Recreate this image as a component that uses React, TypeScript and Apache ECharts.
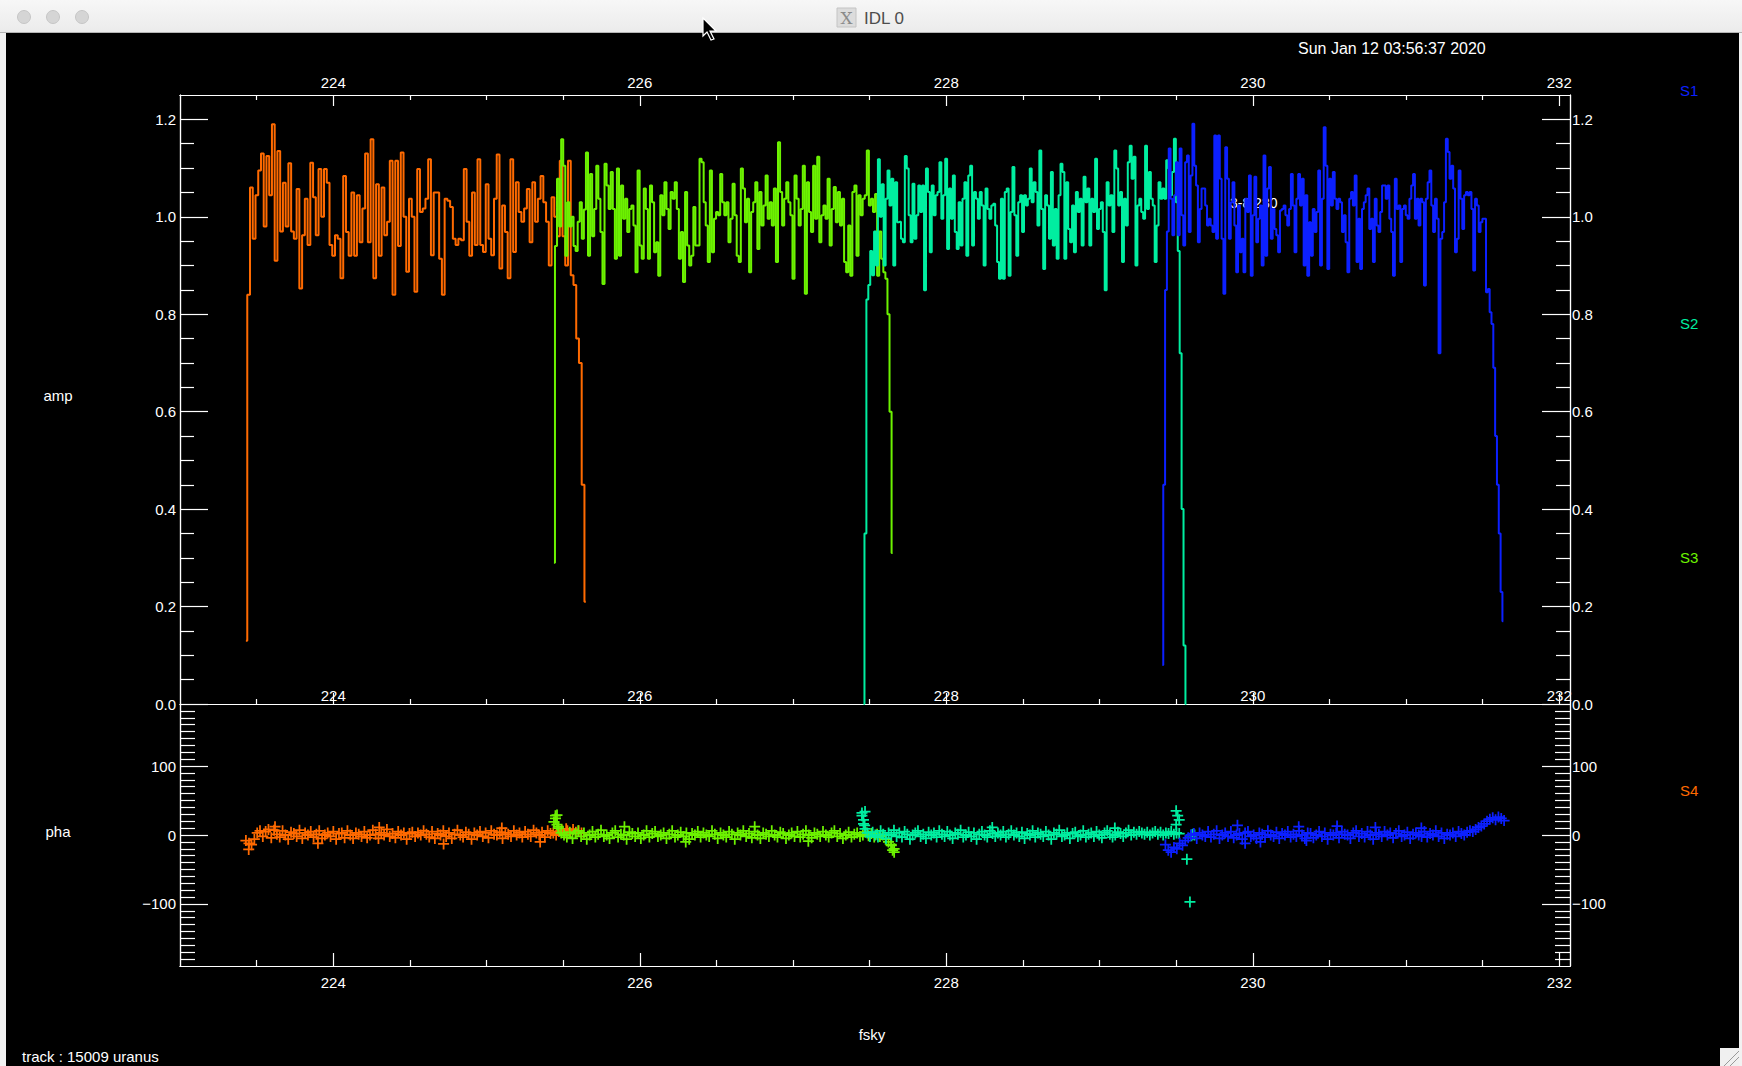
import { useEffect, useRef } from "react";
import * as echarts from "echarts";

// --- frequency axis (GHz) ---
const X_MIN = 223;
const X_MAX = 232.07;
const xMajorTicks = [224, 226, 228, 230, 232];
const xMinorTicks = [223.5, 224.5, 225, 225.5, 226.5, 227, 227.5, 228.5, 229, 229.5, 230.5, 231, 231.5];

// --- amplitude axis ---
const ampMajorTicks = [0, 0.2, 0.4, 0.6, 0.8, 1.0, 1.2];
const ampMinorTicks = [0.05, 0.1, 0.15, 0.25, 0.3, 0.35, 0.45, 0.5, 0.55, 0.65, 0.7, 0.75, 0.85, 0.9, 0.95, 1.05, 1.1, 1.15];

// --- phase axis ---
const phaMajorTicks = [-100, 0, 100];
const phaMinorTicks = [
  -180, -170, -160, -150, -140, -130, -120, -110, -90, -80, -70, -60, -50, -40, -30, -20, -10,
  10, 20, 30, 40, 50, 60, 70, 80, 90, 110, 120, 130, 140, 150, 160, 170, 180,
];

// --- sub-band channel ranges (GHz) ---
const rangeS4 = [223.43, 225.648];
const rangeS3 = [225.44, 227.65];
const rangeS2 = [227.46, 229.567];
const rangeS1 = [229.41, 231.635];

// --- amplitude per channel ---
const ampS4 = [
  0.13, 0.84, 1.06, 0.955, 1.044, 1.095, 1.13, 0.98, 1.125, 1.044, 1.19, 0.91, 1.135, 0.97, 1.07, 0.98, 1.11, 0.97, 0.955, 1.057,
  0.853, 0.962, 1.037, 0.942, 1.111, 1.04, 0.962, 1.098, 1.0, 1.098, 1.07, 0.942, 0.92, 0.962, 0.955, 0.874, 1.084, 0.969, 0.92, 1.05,
  0.92, 1.044, 0.948, 1.017, 1.13, 0.948, 1.159, 0.874, 1.067, 0.92, 1.06, 0.962, 0.99, 1.115, 0.84, 1.115, 0.94, 1.132, 1.0, 0.887,
  1.037, 1.0, 0.846, 1.098, 1.01, 1.017, 1.037, 1.118, 0.921, 1.05, 1.05, 0.914, 0.84, 1.037, 1.033, 1.02, 0.955, 0.942, 0.955, 0.952,
  1.098, 0.99, 0.92, 1.05, 0.942, 1.118, 0.942, 0.928, 1.067, 0.955, 0.921, 1.037, 1.128, 0.894, 1.023, 0.969, 0.874, 1.118, 0.928, 1.071,
  1.01, 0.99, 1.017, 1.057, 0.948, 1.071, 0.99, 1.037, 1.084, 1.03, 0.99, 0.9, 1.04, 1.0, 0.96, 1.115, 0.96, 0.9, 1.115, 0.88,
  0.86, 0.75, 0.7, 0.45, 0.21,
];
const ampS3 = [
  0.29, 0.94, 1.078, 0.98, 1.159, 1.105, 0.92, 1.03, 0.98, 1.0, 0.94, 0.93, 0.99, 1.03, 0.955, 1.015, 1.132, 0.92, 1.088, 0.96,
  1.016, 1.105, 1.037, 0.969, 0.862, 1.109, 1.064, 1.016, 1.092, 1.016, 0.914, 1.099, 0.92, 1.064, 0.996, 1.037, 0.969, 1.016, 1.023, 0.982,
  0.886, 1.095, 0.941, 0.914, 1.058, 1.016, 0.914, 1.064, 1.03, 0.927, 0.948, 0.879, 1.044, 1.003, 1.071, 1.016, 0.975, 1.051, 1.037, 1.071,
  1.016, 0.914, 0.969, 0.866, 1.051, 0.941, 0.9, 0.92, 1.02, 0.941, 0.941, 1.119, 1.112, 1.03, 0.982, 0.907, 1.095, 0.927, 0.996, 1.01,
  1.003, 1.088, 1.03, 1.003, 1.03, 0.948, 0.996, 1.068, 1.003, 0.92, 0.907, 1.099, 1.058, 0.989, 1.037, 0.886, 1.01, 1.03, 1.071, 0.934,
  1.051, 0.982, 1.023, 1.085, 0.996, 1.03, 0.982, 1.058, 0.907, 1.153, 1.051, 0.982, 1.037, 1.071, 1.03, 1.003, 0.873, 1.085, 1.037, 0.982,
  1.016, 1.105, 0.842, 1.071, 1.01, 0.969, 1.105, 0.996, 1.123, 0.948, 1.003, 1.023, 0.996, 1.078, 0.941, 1.016, 1.061, 0.989, 1.051, 0.982,
  1.037, 0.907, 0.886, 0.982, 0.879, 1.051, 1.064, 0.92, 1.044, 1.003, 1.037, 1.044, 1.136, 1.023, 1.037, 1.01, 1.047, 0.879, 0.97, 0.914,
  0.886, 0.873, 0.8, 0.6, 0.31,
];
const ampS2 = [
  0.0, 0.35, 0.83, 0.86, 0.93, 0.88, 0.97, 0.9, 1.118, 1.0, 1.067, 0.9, 1.037, 1.095, 1.023, 1.078, 0.9, 1.071, 0.989, 0.99,
  0.955, 0.948, 1.125, 1.099, 1.003, 0.948, 1.068, 0.955, 1.003, 1.064, 1.01, 1.064, 0.849, 1.099, 1.051, 0.927, 1.064, 1.003, 1.044, 1.051,
  1.112, 0.996, 1.044, 1.119, 0.934, 1.058, 0.996, 1.085, 0.969, 0.934, 1.03, 0.941, 1.037, 1.071, 0.92, 1.085, 1.105, 0.941, 1.051, 1.037,
  0.996, 1.051, 1.023, 0.9, 1.058, 1.016, 0.996, 1.023, 1.027, 0.982, 0.907, 0.873, 1.037, 0.873, 1.051, 1.058, 0.879, 1.01, 1.102, 1.003,
  0.92, 1.03, 1.044, 0.969, 1.044, 1.023, 1.037, 1.099, 1.03, 1.071, 1.051, 0.982, 1.136, 1.016, 0.893, 1.044, 1.023, 0.955, 1.092, 0.941,
  1.016, 0.914, 1.044, 1.109, 1.092, 0.914, 1.071, 0.975, 0.948, 1.023, 0.927, 1.051, 1.01, 1.037, 0.941, 1.082, 1.03, 1.058, 0.941, 1.037,
  1.01, 1.119, 0.975, 1.016, 1.03, 0.969, 0.849, 1.071, 1.023, 1.044, 0.969, 1.136, 1.099, 1.023, 1.051, 0.907, 1.037, 0.982, 1.112, 1.146,
  1.078, 1.123, 0.9, 1.023, 1.037, 1.01, 0.996, 1.146, 1.016, 1.092, 1.037, 1.023, 0.907, 0.982, 1.071, 1.037, 1.058, 1.037, 1.116, 1.099,
  1.044, 1.092, 1.16, 1.03, 0.93, 0.72, 0.4, 0.12, 0.0,
];
const ampS1 = [
  0.08, 0.45, 0.85, 0.97, 1.14, 1.037, 0.962, 1.044, 1.112, 0.962, 1.14, 1.003, 0.941, 1.112, 1.126, 0.969, 1.085, 1.191, 1.105, 1.064,
  0.948, 1.016, 1.058, 1.058, 1.023, 0.982, 0.996, 0.982, 0.969, 1.167, 0.955, 1.167, 1.078, 0.955, 0.842, 1.143, 1.078, 0.955, 1.03, 1.071,
  0.982, 0.886, 1.023, 0.927, 0.955, 0.886, 1.037, 1.01, 1.085, 0.879, 1.003, 1.082, 0.948, 0.996, 1.023, 0.9, 1.126, 0.92, 1.058, 1.102,
  0.955, 1.016, 0.975, 0.962, 0.927, 1.013, 1.016, 1.023, 1.003, 0.982, 1.016, 1.088, 1.023, 0.927, 1.037, 1.088, 1.023, 1.078, 0.9, 1.044,
  0.879, 0.989, 0.92, 1.016, 0.969, 1.01, 1.095, 0.9, 1.037, 1.184, 1.105, 0.893, 1.078, 1.023, 1.092, 1.037, 1.016, 1.037, 1.03, 0.969,
  1.003, 0.948, 0.886, 1.037, 1.051, 1.023, 1.085, 0.907, 0.996, 0.893, 1.016, 1.03, 1.044, 1.058, 0.975, 0.996, 0.907, 1.037, 0.982, 0.969,
  1.01, 1.064, 1.064, 1.037, 1.064, 0.996, 0.969, 0.879, 1.078, 1.016, 1.023, 0.907, 1.016, 1.023, 1.003, 0.996, 1.037, 1.064, 1.088, 0.996,
  1.037, 0.982, 1.037, 1.03, 0.859, 1.037, 1.071, 1.095, 1.023, 0.969, 1.037, 0.996, 0.72, 0.955, 0.969, 1.03, 1.16, 1.133, 1.078, 1.105,
  1.058, 0.927, 0.955, 1.095, 1.037, 0.975, 1.044, 1.051, 1.044, 1.051, 1.016, 0.89, 1.037, 1.023, 0.969, 0.989, 0.996, 0.996, 0.845, 0.852,
  0.804, 0.78, 0.69, 0.55, 0.45, 0.35, 0.23, 0.17,
];

// --- phase per channel (deg) ---
const phaRangeS4 = [223.43, 225.62];
const phaRangeS3 = [225.45, 227.66];
const phaRangeS2 = [227.45, 229.52];
const phaRangeS1 = [229.43, 231.64];
const phaS4 = [
  -8, -21, -14, -6, 3, 6, -2, 5, 8, -4, 7, 1, -3, 6, 0, -6, 4, 2, -2, 7, -5, 3, 0, 5, -3, 1, 6, -5, 0, 3,
  -2, 5, -6, 2, 3, -4, 6, 0, -5, 3, 1, -2, 5, -4, 0, 7, 1, -5, 3, 0, 8, -2, 2, -4, 5, 0, 3, -6, 2, 4,
  -2, 3, 0, 6, 1, -3, 5, -5, 2, 0, 6, -2, 3, -5, 1, 7, 0, -3, 4, 1, -6, 3, 0, 5, -2, 3, -4, 6, 1, 0,
  4, -5, 3, 1, -2, 6, 0, 3, -3, 5, 1, -2, 7, 3, 0, 4, -3, 6, 2, 3, 0, 5, 7, 2, 6, 3, 8, 4, 6, 3,
];
const phaS3 = [
  28, 12, 3, 0, -3, 4, -5, 2, 6, -2, 3, -6, 0, 5, -3, 1, 7, -2, 0, -5, 3, 6, -3, 1, 0, -6, 4, 2, -2, 3,
  -5, 0, 6, -3, 2, 5, -2, 0, 3, -5, 1, 6, -3, 0, 4, -2, 3, -6, 2, 0, 5, -3, 3, 0, -2, 6, 1, -5, 3, 0,
  -3, 5, 1, -6, 3, 0, 6, -2, 2, -4, 5, 0, -5, 3, 1, -2, 6, 0, -3, 4, 2, -5, 0, 3, -2, 5, -3, 1, 6, 0,
  -4, 3, 1, -2, 5, 0, -3, 3, 6, -2, 2, -5, 0, 4, -3, 1, 3, -2, 0, 4, -1, 2, -3, 1, -2, 0, -6, -10, -15, -20,
];
const phaS2 = [
  32, 14, 3, -2, 4, 0, -3, 6, 1, -5, 3, 0, 7, -2, 3, -3, 5, 1, -6, 0, 3, 6, -2, 1, -5, 4, 0, 3, -3, 6,
  1, -2, 5, 0, -5, 3, 1, 7, -3, 0, 4, -2, 3, -6, 1, 5, 0, -3, 6, 2, -2, 3, 0, 5, -3, 1, 6, 0, 3, -2,
  4, -5, 2, 0, 6, -3, 3, 1, -2, 5, 0, -6, 3, 1, 7, -2, 0, 3, -5, 2, 4, -2, 0, 6, -3, 1, 3, -2, 5, 0,
  -4, 3, 6, 1, -3, 0, 4, 2, -2, 3, 7, 0, 4, 1, 5, 3, 1, 4, 0, 3, 5, 1, 4, 0, 3, 2, 5, 1, 3, 2,
];
const phaS1 = [
  -14, -22, -25, -18, -20, -12, -15, -8, -4, 0, 2, -5, 3, 0, -2, 5, -3, 1, 6, -5, 0, 3, -2, 5, -4, 0, 2, -6, 3, 5,
  -2, 0, -5, 3, 1, -3, 6, 0, -2, 4, -5, 2, 0, 5, -3, 1, -2, 6, 0, -5, 3, 2, -4, 0, 5, -2, 3, -6, 1, 0,
  3, -4, 5, 1, 0, -5, 3, 6, -2, 2, -3, 5, 0, -6, 3, 1, -2, 5, 0, 3, -4, 2, 6, -2, 0, 4, -5, 1, 3, 0,
  -2, 5, -3, 2, 0, 6, -2, 3, -5, 1, 0, 3, -2, 5, 2, 0, 4, 6, 5, 8, 11, 13, 16, 20, 23, 25, 22, 26, 24, 21,
];
// stray phase points [GHz, deg]
const phaExtraS4 = [[223.45, -12], [223.62, 12], [223.9, -12], [224.3, 11], [224.72, -13], [225.1, 10], [225.35, -10], [225.52, 9]];
const phaExtraS3 = [
  [225.44, 19], [225.45, 24], [225.46, 15], [225.46, 29], [225.47, 10], [225.9, 12], [226.3, -10], [226.75, 12],
  [227.1, -9], [227.64, -14], [227.65, -22], [227.66, -25],
];
const phaExtraS2 = [
  [227.45, 28], [227.46, 22], [227.46, 16], [227.47, 34], [227.47, 9], [228.3, 11], [229.1, 10],
  [229.5, 35], [229.51, 28], [229.52, 22], [229.5, 15],
  [229.57, -35], [229.59, -97], [229.6, 0], [229.61, 1], [229.6, -1], [229.62, 0],
];
const phaExtraS1 = [[229.9, 14], [229.95, -12], [230.05, -10], [230.3, 12], [230.35, -8], [230.55, 13], [230.8, 11], [231.1, 10]];

const colS1 = "#0c20ff";
const colS2 = "#00eea0";
const colS3 = "#6cf200";
const colS4 = "#ff6a00";

const FONT = "Liberation Sans, DejaVu Sans, sans-serif";
const PLUS = "path://M4.2,0H5.8V4.2H10V5.8H5.8V10H4.2V5.8H0V4.2H4.2Z";

function channels(range: number[], vals: number[]) {
  const n = vals.length;
  return vals.map((v, i) => [range[0] + ((range[1] - range[0]) * i) / (n - 1), v]);
}

function xAxis(grid: number, pos: string, ticks: number[], len: number, label?: any) {
  return {
    type: "value",
    gridIndex: grid,
    position: pos,
    min: X_MIN,
    max: X_MAX,
    axisLine: { show: true, onZero: false, lineStyle: { color: "#fff", width: 1.2 } },
    axisTick: { show: true, inside: true, length: len, customValues: ticks, lineStyle: { color: "#fff", width: 1.2 } },
    axisLabel: label
      ? { show: true, customValues: xMajorTicks, color: "#fff", fontSize: 15, fontFamily: FONT, ...label }
      : { show: false },
    splitLine: { show: false },
  };
}

function yAxis(grid: number, pos: string, min: number, max: number, ticks: number[], len: number, label?: any) {
  return {
    type: "value",
    gridIndex: grid,
    position: pos,
    min,
    max,
    axisLine: { show: true, onZero: false, lineStyle: { color: "#fff", width: 1.2 } },
    axisTick: { show: true, inside: true, length: len, customValues: ticks, lineStyle: { color: "#fff", width: 1.2 } },
    axisLabel: label
      ? { show: true, customValues: ticks, color: "#fff", fontSize: 15, fontFamily: FONT, margin: 4, ...label }
      : { show: false },
    splitLine: { show: false },
  };
}

function txt(x: number, y: number, text: string, fill: string, extra: any = {}) {
  return {
    type: "text",
    x,
    y,
    z: 1,
    style: { text, fill, fontSize: 15, fontFamily: FONT, textAlign: "left", textVerticalAlign: "middle", ...extra },
  };
}

export default function App() {
  const ref = useRef<HTMLDivElement | null>(null);

  useEffect(() => {
    if (!ref.current) return;
    const chart = echarts.init(ref.current, null, { renderer: "svg" });

    const ampFmt = (v: number) => v.toFixed(1);
    const phaFmt = (v: number) => (v < 0 ? "\u2212" + Math.abs(v) : String(v));

    const ampLine = (name: string, range: number[], vals: number[], color: string) => ({
      name,
      type: "line",
      xAxisIndex: 0,
      yAxisIndex: 0,
      step: "middle",
      showSymbol: false,
      data: channels(range, vals),
      lineStyle: { color, width: 2 },
      itemStyle: { color },
      z: 3,
    });
    const phaPts = (name: string, range: number[], vals: number[], extra: number[][], color: string) => ({
      name,
      type: "scatter",
      xAxisIndex: 4,
      yAxisIndex: 4,
      symbol: PLUS,
      symbolSize: 11,
      data: [...channels(range, vals), ...extra],
      itemStyle: { color, opacity: 1 },
      z: 3,
    });

    chart.setOption({
      animation: false,
      backgroundColor: "#000",
      grid: [
        { left: 180, top: 95, width: 1390, height: 609, outerBoundsMode: "none" },
        { left: 180, top: 704, width: 1390, height: 262, outerBoundsMode: "none" },
      ],
      xAxis: [
        xAxis(0, "top", xMajorTicks, 11, { margin: 5 }),
        xAxis(0, "top", xMinorTicks, 5),
        xAxis(0, "bottom", xMajorTicks, 11, { inside: true, margin: 1 }),
        xAxis(0, "bottom", xMinorTicks, 5),
        xAxis(1, "bottom", xMajorTicks, 13, { margin: 9 }),
        xAxis(1, "bottom", xMinorTicks, 6),
      ],
      yAxis: [
        yAxis(0, "left", 0, 1.25, ampMajorTicks, 28, { formatter: ampFmt }),
        yAxis(0, "left", 0, 1.25, ampMinorTicks, 14),
        yAxis(0, "right", 0, 1.25, ampMajorTicks, 28, { formatter: ampFmt, margin: 2 }),
        yAxis(0, "right", 0, 1.25, ampMinorTicks, 14),
        yAxis(1, "left", -190, 190, phaMajorTicks, 28, { formatter: phaFmt }),
        yAxis(1, "left", -190, 190, phaMinorTicks, 15),
        yAxis(1, "right", -190, 190, phaMajorTicks, 28, { formatter: phaFmt, margin: 2 }),
        yAxis(1, "right", -190, 190, phaMinorTicks, 15),
      ],
      series: [
        ampLine("S4", rangeS4, ampS4, colS4),
        ampLine("S3", rangeS3, ampS3, colS3),
        ampLine("S2", rangeS2, ampS2, colS2),
        ampLine("S1", rangeS1, ampS1, colS1),
        phaPts("S4 pha", phaRangeS4, phaS4, phaExtraS4, colS4),
        phaPts("S3 pha", phaRangeS3, phaS3, phaExtraS3, colS3),
        phaPts("S2 pha", phaRangeS2, phaS2, phaExtraS2, colS2),
        phaPts("S1 pha", phaRangeS1, phaS1, phaExtraS1, colS1),
      ],
      graphic: [
        // window chrome
        {
          type: "rect",
          shape: { x: 0, y: 0, width: 1742, height: 33 },
          style: {
            fill: new echarts.graphic.LinearGradient(0, 0, 0, 1, [
              { offset: 0, color: "#f7f7f7" },
              { offset: 1, color: "#ebebeb" },
            ]),
          },
        },
        { type: "line", shape: { x1: 0, y1: 32.5, x2: 1742, y2: 32.5 }, style: { stroke: "#b5b5b5", lineWidth: 1 } },
        { type: "rect", shape: { x: 0, y: 33, width: 6, height: 1033 }, style: { fill: "#f2f2f2" } },
        { type: "rect", shape: { x: 1739, y: 33, width: 3, height: 1033 }, style: { fill: "#f2f2f2" } },
        { type: "circle", shape: { cx: 24, cy: 17, r: 6.5 }, style: { fill: "#d5d5d5", stroke: "#c6c6c6" } },
        { type: "circle", shape: { cx: 53, cy: 17, r: 6.5 }, style: { fill: "#d5d5d5", stroke: "#c6c6c6" } },
        { type: "circle", shape: { cx: 82, cy: 17, r: 6.5 }, style: { fill: "#d5d5d5", stroke: "#c6c6c6" } },
        { type: "rect", shape: { x: 837, y: 8, width: 19, height: 19 }, style: { fill: "#dcdcdc", stroke: "#c4c4c4" } },
        txt(846.5, 18, "X", "#8a8a8a", { fontSize: 17, fontFamily: "DejaVu Serif", textAlign: "center" }),
        txt(864, 18, "IDL 0", "#4d4d4d", { fontSize: 17 }),
        {
          type: "polygon",
          z: 20,
          shape: { points: [[703, 18], [703, 36], [707, 32], [711, 40], [714, 39], [710, 31], [716, 31]] },
          style: { fill: "#000", stroke: "#fff", lineWidth: 1.2 },
        },
        { type: "rect", shape: { x: 1720, y: 1048, width: 19, height: 18 }, style: { fill: "#f0f0f0" } },
        { type: "line", shape: { x1: 1724, y1: 1066, x2: 1739, y2: 1051 }, style: { stroke: "#9a9a9a", lineWidth: 1 } },
        { type: "line", shape: { x1: 1730, y1: 1066, x2: 1739, y2: 1057 }, style: { stroke: "#9a9a9a", lineWidth: 1 } },
        // plot annotations
        txt(1298, 48, "Sun Jan 12 03:56:37 2020", "#fff", { fontSize: 16 }),
        txt(1680, 90, "S1", colS1),
        txt(1680, 323, "S2", colS2),
        txt(1680, 557, "S3", colS3),
        txt(1680, 790, "S4", colS4),
        txt(58, 395, "amp", "#fff", { textAlign: "center" }),
        txt(58, 831, "pha", "#fff", { textAlign: "center" }),
        txt(872, 1034, "fsky", "#fff", { textAlign: "center" }),
        txt(22, 1056, "track : 15009 uranus", "#fff"),
        txt(1230, 203, "3-8 230", "#fff", { fontSize: 14 }),
      ],
    });

    return () => chart.dispose();
  }, []);

  return <div ref={ref} style={{ position: "fixed", left: 0, top: 0, width: 1742, height: 1066 }} />;
}
